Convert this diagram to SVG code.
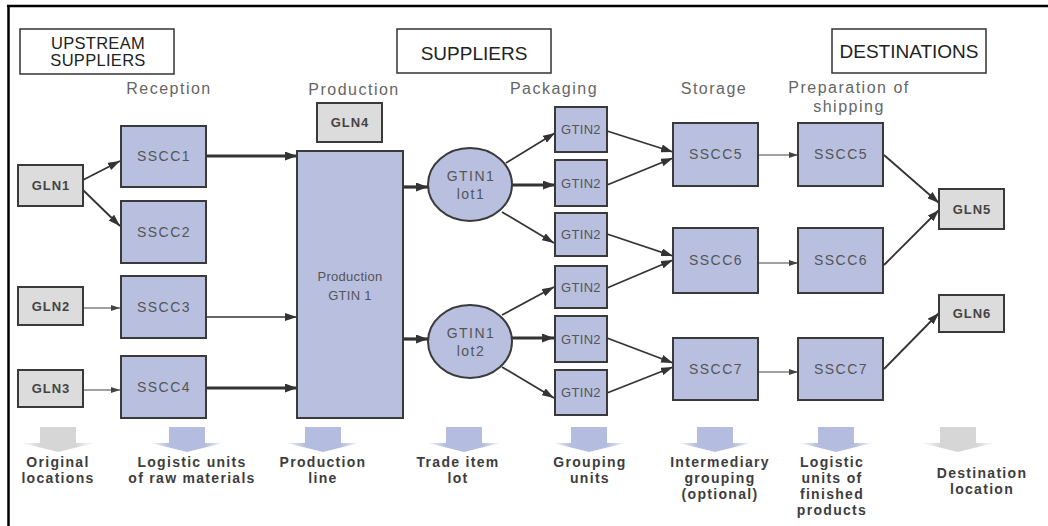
<svg xmlns="http://www.w3.org/2000/svg" width="1048" height="526" viewBox="0 0 1048 526">
<defs>
<style>
.hdr{fill:#fff;stroke:#333;stroke-width:1.5}
.ht{font-family:"Liberation Sans",Arial,sans-serif;font-size:19px;fill:#222;text-anchor:middle}
.ht2{font-family:"Liberation Sans",Arial,sans-serif;font-size:16.5px;fill:#222;text-anchor:middle;letter-spacing:0.3px}
.stg{font-family:"Liberation Sans",Arial,sans-serif;font-size:16px;fill:#666;text-anchor:middle;letter-spacing:1.5px}
.bn{fill:#b8bfdf;stroke:#3a3a3a;stroke-width:2}
.gn{fill:#dcdcdc;stroke:#3a3a3a;stroke-width:2}
.nt{font-family:"Liberation Sans",Arial,sans-serif;font-size:14px;fill:#555;text-anchor:middle;letter-spacing:1.5px}
.gt{font-family:"Liberation Sans",Arial,sans-serif;font-size:13px;font-weight:bold;fill:#444;text-anchor:middle;letter-spacing:1px}
.st{font-family:"Liberation Sans",Arial,sans-serif;font-size:13px;fill:#555;text-anchor:middle;letter-spacing:0.3px}
.bl{font-family:"Liberation Sans",Arial,sans-serif;font-size:14px;font-weight:bold;fill:#3d3d3d;text-anchor:middle;letter-spacing:1.3px}
.ck{fill:none;stroke:#333;stroke-width:3.2;marker-end:url(#ak)}
.cm{fill:none;stroke:#333;stroke-width:1.8;marker-end:url(#am)}
.cs{fill:none;stroke:#444;stroke-width:1.2;marker-end:url(#as)}
</style>
<marker id="ak" markerUnits="userSpaceOnUse" viewBox="0 0 12 9" refX="12" refY="4.5" markerWidth="12" markerHeight="9" orient="auto"><path d="M0,0 L12,4.5 L0,9 z" fill="#333"/></marker>
<marker id="am" markerUnits="userSpaceOnUse" viewBox="0 0 12 8" refX="12" refY="4" markerWidth="12" markerHeight="8" orient="auto"><path d="M0,0 L12,4 L0,8 z" fill="#333"/></marker>
<marker id="as" markerUnits="userSpaceOnUse" viewBox="0 0 9 6" refX="9" refY="3" markerWidth="9" markerHeight="6" orient="auto"><path d="M0,0 L9,3 L0,6 z" fill="#444"/></marker>
<linearGradient id="gb" x1="0" y1="0" x2="1" y2="0"><stop offset="0" stop-color="#b4bcdf" stop-opacity="0.15"/><stop offset="0.25" stop-color="#b4bcdf"/><stop offset="0.75" stop-color="#b4bcdf"/><stop offset="1" stop-color="#b4bcdf" stop-opacity="0.15"/></linearGradient>
<linearGradient id="gg" x1="0" y1="0" x2="1" y2="0"><stop offset="0" stop-color="#d6d6d6" stop-opacity="0.15"/><stop offset="0.25" stop-color="#d6d6d6"/><stop offset="0.75" stop-color="#d6d6d6"/><stop offset="1" stop-color="#d6d6d6" stop-opacity="0.15"/></linearGradient>
<path id="da" d="M-18,427 h36 v16 h18 l-36,9 l-36,-9 h18 z"/>
</defs>
<rect x="0" y="0" width="1048" height="526" fill="#fff"/>
<g id="frame" stroke="#000" stroke-width="2.5">
<line x1="7" y1="6" x2="1048" y2="6"/>
<line x1="8.5" y1="5" x2="8.5" y2="526"/>
</g>
<g id="headers">
<g id="hdr-upstream"><rect class="hdr" x="20" y="29" width="154" height="45"/><text class="ht2" x="98" y="49">UPSTREAM</text><text class="ht2" x="98" y="66">SUPPLIERS</text></g>
<g id="hdr-suppliers"><rect class="hdr" x="397" y="29" width="154" height="44"/><text class="ht" x="474" y="60">SUPPLIERS</text></g>
<g id="hdr-destinations"><rect class="hdr" x="832" y="29" width="154" height="44"/><text class="ht" x="909" y="58">DESTINATIONS</text></g>
</g>
<g id="stages">
<text class="stg" x="169" y="94">Reception</text>
<text class="stg" x="354" y="95">Production</text>
<text class="stg" x="554" y="94">Packaging</text>
<text class="stg" x="714" y="94">Storage</text>
<text class="stg" x="849" y="93">Preparation of</text>
<text class="stg" x="849" y="112">shipping</text>
</g>
<g id="connectors">
<path class="cm" d="M83,180 L120,161"/>
<path class="cm" d="M83,190 L120,226"/>
<path class="cs" d="M83,308 L120,308"/>
<path class="cs" d="M83,390 L120,390"/>
<path class="ck" d="M206,156 L297,156"/>
<path class="cm" d="M206,317 L297,317" style="stroke-width:1.4"/>
<path class="ck" d="M206,388 L297,388"/>
<path class="ck" d="M403,187 L428,187"/>
<path class="ck" d="M403,339 L428,339"/>
<path class="cm" d="M506,163 L555,133"/>
<path class="ck" d="M512,185 L555,185"/>
<path class="cm" d="M502,212 L554,243"/>
<path class="cm" d="M502,315 L554,287"/>
<path class="ck" d="M512,338 L554,338"/>
<path class="cm" d="M502,367 L554,398"/>
<path class="cm" d="M607,131 L673,152"/>
<path class="cm" d="M607,185 L673,158"/>
<path class="cm" d="M607,234 L673,256"/>
<path class="cm" d="M607,288 L673,260"/>
<path class="cm" d="M607,338 L673,363"/>
<path class="cm" d="M607,393 L673,367"/>
<path class="cs" d="M758,155 L798,155"/>
<path class="cs" d="M758,263 L798,263"/>
<path class="cs" d="M758,372 L798,372"/>
<path class="cm" d="M884,155 L939,203"/>
<path class="cm" d="M884,265 L939,210"/>
<path class="cm" d="M884,369 L939,313"/>
</g>
<g id="gln1"><rect class="gn" x="18" y="165" width="65" height="41"/><text class="gt" x="51" y="190">GLN1</text></g>
<g id="gln2"><rect class="gn" x="18" y="287" width="65" height="38"/><text class="gt" x="51" y="311">GLN2</text></g>
<g id="gln3"><rect class="gn" x="18" y="370" width="65" height="37"/><text class="gt" x="51" y="393">GLN3</text></g>
<g id="sscc1"><rect class="bn" x="121" y="126" width="85" height="61"/><text class="nt" x="164" y="161">SSCC1</text></g>
<g id="sscc2"><rect class="bn" x="121" y="201" width="85" height="62"/><text class="nt" x="164" y="237">SSCC2</text></g>
<g id="sscc3"><rect class="bn" x="121" y="276" width="85" height="62"/><text class="nt" x="164" y="312">SSCC3</text></g>
<g id="sscc4"><rect class="bn" x="121" y="356" width="85" height="62"/><text class="nt" x="164" y="392">SSCC4</text></g>
<g id="gln4"><rect class="gn" x="317" y="103" width="65" height="39"/><text class="gt" x="350" y="127">GLN4</text></g>
<g id="production"><rect class="bn" x="297" y="151" width="106" height="267"/><text class="st" x="350" y="281">Production</text><text class="st" x="350" y="300">GTIN 1</text></g>
<g id="lot1"><ellipse class="bn" cx="470" cy="184.5" rx="42" ry="36.5"/><text class="nt" x="471" y="181">GTIN1</text><text class="nt" x="471" y="199">lot1</text></g>
<g id="lot2"><ellipse class="bn" cx="470" cy="341.5" rx="42" ry="36.5"/><text class="nt" x="471" y="338">GTIN1</text><text class="nt" x="471" y="356">lot2</text></g>
<g id="gtin2-1"><rect class="bn" x="555" y="107" width="52" height="45"/><text class="st" x="581" y="134">GTIN2</text></g>
<g id="gtin2-2"><rect class="bn" x="555" y="160" width="52" height="46"/><text class="st" x="581" y="188">GTIN2</text></g>
<g id="gtin2-3"><rect class="bn" x="555" y="213" width="52" height="43"/><text class="st" x="581" y="239">GTIN2</text></g>
<g id="gtin2-4"><rect class="bn" x="555" y="266" width="52" height="42"/><text class="st" x="581" y="292">GTIN2</text></g>
<g id="gtin2-5"><rect class="bn" x="555" y="316" width="52" height="46"/><text class="st" x="581" y="344">GTIN2</text></g>
<g id="gtin2-6"><rect class="bn" x="555" y="370" width="52" height="45"/><text class="st" x="581" y="397">GTIN2</text></g>
<g id="sscc5-st"><rect class="bn" x="673" y="123" width="85" height="63"/><text class="nt" x="716" y="159">SSCC5</text></g>
<g id="sscc6-st"><rect class="bn" x="673" y="228" width="85" height="65"/><text class="nt" x="716" y="265">SSCC6</text></g>
<g id="sscc7-st"><rect class="bn" x="673" y="338" width="85" height="62"/><text class="nt" x="716" y="374">SSCC7</text></g>
<g id="sscc5-sh"><rect class="bn" x="798" y="123" width="85" height="63"/><text class="nt" x="841" y="159">SSCC5</text></g>
<g id="sscc6-sh"><rect class="bn" x="798" y="228" width="85" height="65"/><text class="nt" x="841" y="265">SSCC6</text></g>
<g id="sscc7-sh"><rect class="bn" x="798" y="338" width="85" height="62"/><text class="nt" x="841" y="374">SSCC7</text></g>
<g id="gln5"><rect class="gn" x="939" y="189" width="65" height="40"/><text class="gt" x="972" y="214">GLN5</text></g>
<g id="gln6"><rect class="gn" x="939" y="295" width="65" height="37"/><text class="gt" x="972" y="318">GLN6</text></g>
<g id="legend">
<use href="#da" x="58" fill="url(#gg)"/>
<use href="#da" x="187" fill="url(#gb)"/>
<use href="#da" x="323" fill="url(#gb)"/>
<use href="#da" x="464" fill="url(#gb)"/>
<use href="#da" x="589" fill="url(#gb)"/>
<use href="#da" x="715" fill="url(#gb)"/>
<use href="#da" x="836" fill="url(#gb)"/>
<use href="#da" x="958" fill="url(#gg)"/>
<text class="bl" x="58" y="467">Original</text><text class="bl" x="58" y="483">locations</text>
<text class="bl" x="192" y="467">Logistic units</text><text class="bl" x="192" y="483">of raw materials</text>
<text class="bl" x="323" y="467">Production</text><text class="bl" x="323" y="483">line</text>
<text class="bl" x="458" y="467">Trade item</text><text class="bl" x="458" y="483">lot</text>
<text class="bl" x="590" y="467">Grouping</text><text class="bl" x="590" y="483">units</text>
<text class="bl" x="720" y="467">Intermediary</text><text class="bl" x="720" y="483">grouping</text><text class="bl" x="720" y="499">(optional)</text>
<text class="bl" x="832" y="467">Logistic</text><text class="bl" x="832" y="483">units of</text><text class="bl" x="832" y="499">finished</text><text class="bl" x="832" y="515">products</text>
<text class="bl" x="982" y="478">Destination</text><text class="bl" x="982" y="494">location</text>
</g>
</svg>
